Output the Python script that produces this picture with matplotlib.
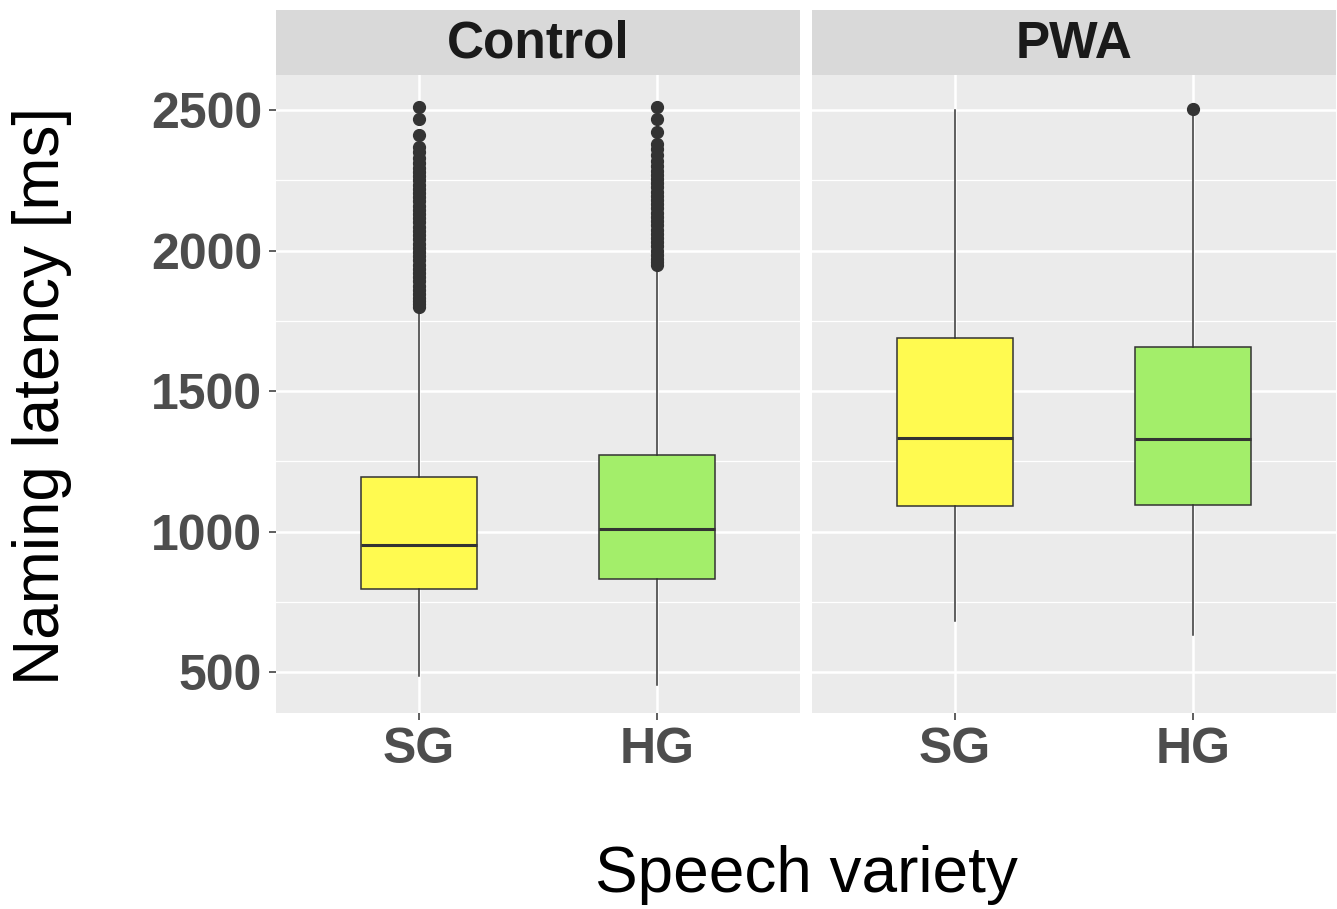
"""Naming latency boxplots by speech variety, faceted by group (ggplot look)."""
import matplotlib

matplotlib.use("Agg")
import matplotlib.pyplot as plt

panels = ["Control", "PWA"]
varieties = ["SG", "HG"]

# box stats per panel: (whislo, q1, median, q3, whishi)
control_sg = (486, 795, 952, 1194, 1790)
control_hg = (454, 831, 1009, 1272, 1930)
pwa_sg = (681, 1091, 1333, 1689, 2500)
pwa_hg = (632, 1094, 1329, 1657, 2480)

control_sg_out = [1800, 1810, 1820, 1830, 1845, 1860, 1875, 1890, 1905, 1920, 1935, 1950,
                  1965, 1980, 1995, 2010, 2025, 2040, 2055, 2070, 2085, 2100, 2115, 2130,
                  2145, 2160, 2175, 2190, 2205, 2220, 2235, 2250, 2265, 2280, 2295, 2310,
                  2330, 2350, 2370, 2411, 2468, 2512]
control_hg_out = [1948, 1958, 1970, 1985, 2000, 2015, 2030, 2045, 2060, 2075, 2090, 2105,
                  2120, 2135, 2150, 2165, 2180, 2195, 2210, 2225, 2240, 2255, 2270, 2285,
                  2300, 2320, 2340, 2360, 2380, 2422, 2468, 2510]
pwa_sg_out = []
pwa_hg_out = [2505]

fills = ["#FFFA50", "#A3EE6A"]
yticks = [500, 1000, 1500, 2000, 2500]

W, H = 1337, 909
fig = plt.figure(figsize=(W / 100, H / 100), dpi=100)
plt.rcParams["font.family"] = ["Liberation Sans", "DejaVu Sans"]

data = {
    "Control": [(control_sg, control_sg_out), (control_hg, control_hg_out)],
    "PWA": [(pwa_sg, pwa_sg_out), (pwa_hg, pwa_hg_out)],
}

lefts = [276, 812]
pw = 524
top, bottom = 75, 713
for i, name in enumerate(panels):
    l = lefts[i] / W
    ax = fig.add_axes([l, 1 - bottom / H, pw / W, (bottom - top) / H])
    strip = fig.add_axes([l, 1 - top / H, pw / W, 65 / H])
    strip.set_facecolor("#D9D9D9")
    strip.set_xticks([])
    strip.set_yticks([])
    for s in strip.spines.values():
        s.set_visible(False)
    strip.text(0.5, 0.47, name, ha="center", va="center", fontsize=37,
               fontweight="bold", color="#1A1A1A", transform=strip.transAxes)

    ax.set_facecolor("#EBEBEB")
    stats = []
    for j, (st, out) in enumerate(data[name]):
        lo, q1, med, q3, hi = st
        stats.append(dict(whislo=lo, q1=q1, med=med, q3=q3, whishi=hi, fliers=out,
                          label=varieties[j]))
    bp = ax.bxp(stats, positions=[1, 2], widths=0.49, patch_artist=True, showcaps=False,
                boxprops=dict(edgecolor="#333333", linewidth=1.1),
                medianprops=dict(color="#333333", linewidth=2.2),
                whiskerprops=dict(color="#333333", linewidth=1.1),
                flierprops=dict(marker="o", markersize=8.5, markerfacecolor="#333333",
                                markeredgecolor="#333333", linestyle="none"),
                zorder=3)
    for patch, c in zip(bp["boxes"], fills):
        patch.set_facecolor(c)

    ax.set_xlim(0.4, 2.6)
    ax.set_ylim(354, 2625)
    ax.set_yticks(yticks)
    ax.set_yticks([750, 1250, 1750, 2250], minor=True)
    ax.set_xticks([1, 2])
    ax.set_xticklabels(varieties)
    ax.grid(which="major", color="white", linewidth=1.8, zorder=0)
    ax.grid(which="minor", axis="y", color="white", linewidth=0.9, zorder=0)
    ax.set_axisbelow(True)
    for s in ax.spines.values():
        s.set_visible(False)
    ax.tick_params(axis="both", which="major", length=5, color="#333333", width=1.1,
                   labelsize=36, labelcolor="#4D4D4D", pad=5)
    ax.tick_params(axis="y", which="minor", length=0)
    for lab in ax.get_xticklabels() + ax.get_yticklabels():
        lab.set_fontweight("bold")
    if i == 1:
        ax.tick_params(axis="y", which="major", length=0, labelleft=False)

fig.text(42 / W, 1 - 396 / H, "Naming latency [ms]", rotation=90, ha="center",
         va="center", fontsize=46, color="black")
fig.text(806 / W, 1 - 875 / H, "Speech variety", ha="center", va="center",
         fontsize=46, color="black")

fig.savefig("out.png", dpi=100)
